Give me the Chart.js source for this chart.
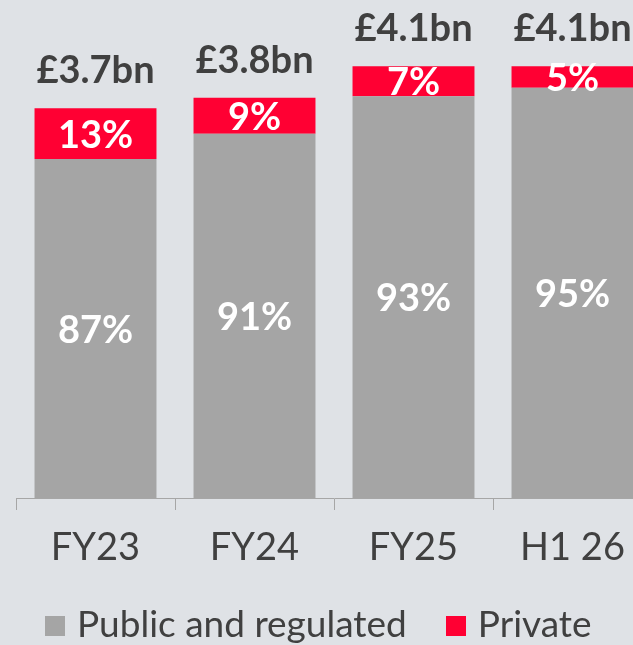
<!DOCTYPE html>
<html>
<head>
<meta charset="utf-8">
<script src="https://cdn.jsdelivr.net/npm/chart.js@4.4.1/dist/chart.umd.min.js"></script>
<style>
  html, body { margin: 0; padding: 0; background: #dfe2e6; overflow: hidden; }
  #wrap { position: absolute; left: 0; top: 0; width: 652px; height: 654px; }
</style>
</head>
<body>
<div id="wrap"><canvas id="chart"></canvas></div>
<script>
// Portfolio split by period: total size (£bn) and share by type (%)
const categories = ['FY23', 'FY24', 'FY25', 'H1 26'];
const totalsBn = [3.7, 3.8, 4.1, 4.1];
const publicShare = [87, 91, 93, 95];
const privateShare = [13, 9, 7, 5];
const seriesNames = ['Public and regulated', 'Private'];

const GREY = '#a5a5a5';
const RED = '#ff0033';
const INK = '#404040';
const AXIS = '#a6a6a6';
const FONT = 'Lato';

const publicValues = totalsBn.map((t, i) => t * publicShare[i] / 100);
const privateValues = totalsBn.map((t, i) => t * privateShare[i] / 100);

// Square legend swatch drawn into a small canvas
function swatch(color) {
  const c = document.createElement('canvas');
  c.width = 20; c.height = 20;
  const g = c.getContext('2d');
  g.fillStyle = color;
  g.fillRect(0, 0, 20, 20);
  return c;
}

// Percent inside each segment, total above each bar
const barLabels = {
  id: 'barLabels',
  afterDatasetsDraw(chart) {
    const ctx = chart.ctx;
    ctx.save();
    ctx.textAlign = 'center';
    ctx.textBaseline = 'middle';
    ctx.fillStyle = '#ffffff';
    ctx.font = `bold 38px ${FONT}`;
    chart.data.datasets.forEach((ds, di) => {
      const meta = chart.getDatasetMeta(di);
      meta.data.forEach((bar, i) => {
        const cy = (bar.y + bar.base) / 2;
        ctx.fillText(ds.shares[i] + '%', bar.x, cy + 2);
      });
    });
    const top = chart.getDatasetMeta(chart.data.datasets.length - 1);
    ctx.fillStyle = INK;
    ctx.textBaseline = 'alphabetic';
    top.data.forEach((bar, i) => {
      ctx.fillText('£' + totalsBn[i].toFixed(1) + 'bn', bar.x, bar.y - 25);
    });
    ctx.restore();
  }
};

function draw() {
  new Chart(document.getElementById('chart'), {
    type: 'bar',
    data: {
      labels: categories,
      datasets: [
        { label: seriesNames[0], data: publicValues, shares: publicShare, backgroundColor: GREY },
        { label: seriesNames[1], data: privateValues, shares: privateShare, backgroundColor: RED }
      ]
    },
    options: {
      responsive: true,
      maintainAspectRatio: false,
      animation: false,
      events: [],
      layout: { padding: { left: 6, right: 0, top: 24, bottom: 0 } },
      datasets: { bar: { categoryPercentage: 1, barPercentage: 0.767 } },
      scales: {
        x: {
          stacked: true,
          grid: { display: true, drawOnChartArea: false, drawTicks: true, tickLength: 12, color: AXIS, lineWidth: 1 },
          border: { display: true, color: AXIS, width: 1 },
          ticks: { color: INK, font: { family: FONT, size: 38 }, padding: 15 },
          afterFit(scale) { scale.height = 63.5; }
        },
        y: {
          stacked: true,
          display: true,
          min: 0,
          max: 4.5,
          grid: { display: false },
          border: { display: false },
          ticks: { display: false },
          afterFit(scale) { scale.width = 10; }
        }
      },
      plugins: {
        legend: {
          position: 'bottom',
          align: 'start',
          labels: {
            color: INK,
            font: { family: FONT, size: 37 },
            usePointStyle: true,
            pointStyleWidth: 7,
            boxHeight: 20,
            padding: 45.5,
            generateLabels(chart) {
              const items = Chart.defaults.plugins.legend.labels.generateLabels(chart);
              items.forEach(it => { it.pointStyle = swatch(it.fillStyle); });
              return items;
            }
          }
        },
        tooltip: { enabled: false }
      }
    },
    plugins: [barLabels]
  });
}

Promise.all([
  document.fonts.load(`36px ${FONT}`),
  document.fonts.load(`bold 36px ${FONT}`)
]).then(draw, draw);
</script>
</body>
</html>
